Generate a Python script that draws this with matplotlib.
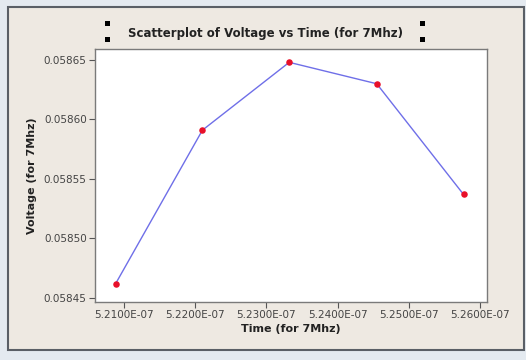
import matplotlib
matplotlib.use("Agg")
import matplotlib.pyplot as plt
from matplotlib.patches import Rectangle
from matplotlib.ticker import FixedLocator, FixedFormatter

# Time (s) and voltage readings at 7 MHz
time_s = [5.2088e-07, 5.2210e-07, 5.2332e-07, 5.2455e-07, 5.2577e-07]
voltage = [0.058462, 0.058591, 0.058648, 0.058630, 0.058537]

x_ticks = [5.21e-07, 5.22e-07, 5.23e-07, 5.24e-07, 5.25e-07, 5.26e-07]
x_tick_labels = ["5.2100E-07", "5.2200E-07", "5.2300E-07",
                 "5.2400E-07", "5.2500E-07", "5.2600E-07"]
y_ticks = [0.05845, 0.05850, 0.05855, 0.05860, 0.05865]
y_tick_labels = ["0.05845", "0.05850", "0.05855", "0.05860", "0.05865"]

W, H = 526, 360
fig = plt.figure(figsize=(W / 100, H / 100), dpi=100)
fig.patch.set_facecolor("#e4eaf0")

# panel background with dark border
panel = Rectangle((8 / W, 1 - 350 / H), (524 - 8) / W, (350 - 7) / H,
                  transform=fig.transFigure, facecolor="#eee9e2",
                  edgecolor="#5a5f66", linewidth=1.5, zorder=0)
fig.add_artist(panel)

ax = fig.add_axes([95 / W, 1 - 302 / H, (487 - 95) / W, (302 - 49) / H])
ax.set_facecolor("white")
for s in ax.spines.values():
    s.set_color("#7a7a7a")
    s.set_linewidth(1.0)

ax.plot(time_s, voltage, color="#6f6fe8", linewidth=1.0, zorder=2)
ax.scatter(time_s, voltage, color="#e8102a", s=22, zorder=3, linewidths=0)

ax.set_xlim(5.2059e-07, 5.2610e-07)
ax.set_ylim(0.0584466, 0.0586592)

ax.xaxis.set_major_locator(FixedLocator(x_ticks))
ax.xaxis.set_major_formatter(FixedFormatter(x_tick_labels))
ax.yaxis.set_major_locator(FixedLocator(y_ticks))
ax.yaxis.set_major_formatter(FixedFormatter(y_tick_labels))
ax.tick_params(direction="out", length=4, width=0.8, color="#555555",
               labelsize=7.5, labelcolor="#444444", pad=2)

ax.set_xlabel("Time (for 7Mhz)", fontsize=8, fontweight="bold",
              color="#222222", labelpad=3)
ax.set_ylabel("Voltage (for 7Mhz)", fontsize=8, fontweight="bold",
              color="#222222", labelpad=5)

fig.text(266 / W, 1 - 33 / H, "Scatterplot of Voltage vs Time (for 7Mhz)",
         ha="center", va="center", fontsize=8.5, fontweight="bold",
         color="#222222")

# selection handles either side of the title
for hx in (107, 422):
    for hy in (23, 39):
        fig.add_artist(Rectangle(((hx - 2.5) / W, 1 - (hy + 2.5) / H), 5 / W, 5 / H,
                                 transform=fig.transFigure,
                                 facecolor="black", edgecolor="none"))

fig.savefig("out.png", dpi=100, facecolor=fig.get_facecolor())
